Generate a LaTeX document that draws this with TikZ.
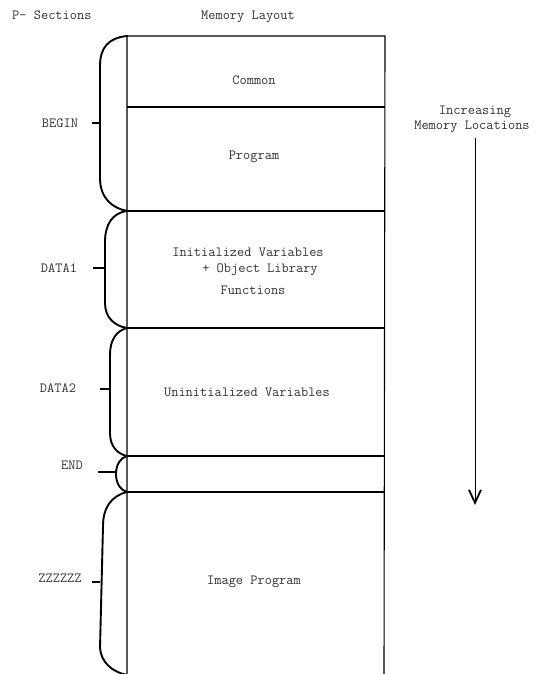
\documentclass[tikz,border=0pt]{standalone}
\usetikzlibrary{arrows.meta}
\begin{document}
\begin{tikzpicture}[x=1pt,y=-1pt,
  txt/.style={font=\ttfamily\fontsize{14}{14}\selectfont, text=black!80, inner sep=0pt},
  boxline/.style={line width=1.1pt},
  heavyline/.style={line width=1.8pt},
  bracel/.style={line width=1.9pt, line cap=round},
  tickl/.style={line width=2pt}]
\useasboundingbox (0,0) rectangle (539,674);
% box corners and separators
\coordinate (tl) at (127,36); \coordinate (tr) at (385,36);
\coordinate (bl) at (127,674); \coordinate (br) at (384,674);
\coordinate (l1) at (127,107); \coordinate (r1) at (385,107);
\coordinate (l2) at (127,211); \coordinate (r2) at (385,211);
\coordinate (l3) at (127,328); \coordinate (r3) at (384,328);
\coordinate (l4) at (127,456); \coordinate (r4) at (384,456);
\coordinate (l5) at (127,492); \coordinate (r5) at (384,492);
\draw[boxline] (bl) -- (tl) -- (tr) -- (br);
\draw[boxline] (l1) -- (r1);
\draw[heavyline] (l2) -- (r2);
\draw[boxline] (l3) -- (r3);
\draw[boxline] (l4) -- (r4);
\draw[boxline] (l5) -- (r5);
% headings
\node[txt, anchor=west] (psec) at (12,15) {P- Sections};
\node[txt] (mlay) at (248,17) {Memory Layout};
% section texts
\node[txt] (common) at (254,80) {Common};
\node[txt] (program) at (254,157) {Program};
\node[txt] (init1) at (248,252) {Initialized Variables};
\node[txt] (init2) at (260,270) {+ Object Library};
\node[txt] (init3) at (253,290) {Functions};
\node[txt] (uninit) at (247,392) {Uninitialized Variables};
\node[txt] (image) at (254,582) {Image Program};
% p-section labels
\node[txt] (begin) at (60,123) {BEGIN};
\node[txt] (data1) at (59,268) {DATA1};
\node[txt] (data2) at (58,388) {DATA2};
\node[txt] (endl) at (72,465) {END};
\node[txt] (zz) at (60,578) {ZZZZZZ};
% braces
\coordinate (t1a) at (92,123); \coordinate (t1b) at (100,123);
\draw[bracel] (tl) .. controls (108,38) and (100,48) .. (100,66) -- (100,178) .. controls (100,198) and (112,208) .. (l2);
\draw[tickl] (t1a) -- (t1b);
\coordinate (t2a) at (93,268); \coordinate (t2b) at (105,268);
\draw[bracel] (l2) .. controls (112,213) and (105,225) .. (105,242) -- (105,303) .. controls (105,318) and (115,326) .. (l3);
\draw[tickl] (t2a) -- (t2b);
\coordinate (t3a) at (100,389); \coordinate (t3b) at (110,389);
\draw[bracel] (l3) .. controls (116,331) and (110,340) .. (110,355) -- (110,433) .. controls (110,447) and (118,454) .. (l4);
\draw[tickl] (t3a) -- (t3b);
\coordinate (t4a) at (98,472); \coordinate (t4b) at (116,472);
\draw[bracel] (l4) .. controls (120,458) and (116,465) .. (116,474) .. controls (116,483) and (120,490) .. (l5);
\draw[tickl] (t4a) -- (t4b);
\coordinate (t5a) at (92,582); \coordinate (t5b) at (100,582);
\draw[bracel] (l5) .. controls (111,496) and (103,508) .. (103,526) -- (100,648) .. controls (101,662) and (112,672) .. (127,675);
\draw[tickl] (t5a) -- (t5b);
% arrow
\node[txt] (inc1) at (475,112) {Increasing};
\node[txt] (inc2) at (472,127) {Memory Locations};
\coordinate (atop) at (475,138); \coordinate (abot) at (475,505);
\draw[line width=1pt, -{Straight Barb[length=13pt,width=12pt,line width=1.8pt]}] (atop) -- (abot);
\end{tikzpicture}
\end{document}
